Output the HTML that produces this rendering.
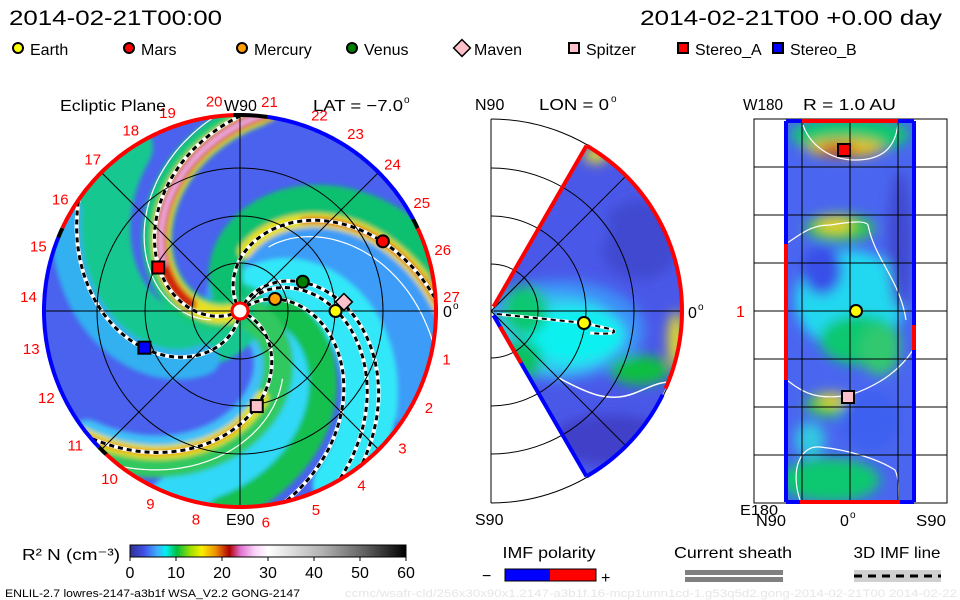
<!DOCTYPE html>
<html><head><meta charset="utf-8"><style>
html,body{margin:0;padding:0;background:#fff;width:960px;height:600px;overflow:hidden}
svg{display:block}
text{font-family:"Liberation Sans",sans-serif}
</style></head><body>
<svg id="s" width="960" height="600" viewBox="0 0 960 600" xmlns="http://www.w3.org/2000/svg">
<defs>
<clipPath id="eclClip"><circle cx="240" cy="311" r="195"/></clipPath>
<clipPath id="merClip"><path id="wedgePath" d=""/></clipPath>
<clipPath id="r1Clip"><rect x="786" y="121" width="128" height="381"/></clipPath>
<filter id="blur6" x="-20%" y="-20%" width="140%" height="140%"><feGaussianBlur stdDeviation="6"/></filter>
<filter id="blur3" x="-20%" y="-20%" width="140%" height="140%"><feGaussianBlur stdDeviation="2.5"/></filter>
<linearGradient id="cbar" x1="0" x2="1" y1="0" y2="0">
<stop offset="0" stop-color="#303090"/><stop offset="0.05" stop-color="#4050e8"/><stop offset="0.1" stop-color="#40b0ff"/><stop offset="0.13" stop-color="#00f0f0"/><stop offset="0.17" stop-color="#00c040"/><stop offset="0.22" stop-color="#a0e000"/><stop offset="0.26" stop-color="#f8f000"/><stop offset="0.31" stop-color="#f09000"/><stop offset="0.36" stop-color="#b00000"/><stop offset="0.4" stop-color="#e070d0"/><stop offset="0.45" stop-color="#f8d0f8"/><stop offset="0.5" stop-color="#ffffff"/><stop offset="0.7" stop-color="#b0b0b0"/><stop offset="0.85" stop-color="#606060"/><stop offset="1" stop-color="#000000"/>
</linearGradient>
</defs>
<g id="header">
<text x="9" y="25" font-size="21" textLength="213" lengthAdjust="spacingAndGlyphs">2014-02-21T00:00</text>
<text x="640" y="25" font-size="21" textLength="302" lengthAdjust="spacingAndGlyphs">2014-02-21T00 +0.00 day</text>
</g>
<g id="legend"></g>
<g id="ecl"></g>
<g id="mer"></g>
<g id="r1"></g>
<g id="bottom"></g>
</svg>
<script>
// ---- data ----
const planetNames = ["Earth","Mars","Mercury","Venus","Maven","Spitzer","Stereo_A","Stereo_B"];
const planetColors = ["#ffff00","#ff0000","#ffa000","#008000","#ffc0cb","#ffc0cb","#ff0000","#0000ff"];
const planetShapes = ["circle","circle","circle","circle","diamond","square","square","square"];
const planetRadiusAU = [0.98,1.63,0.38,0.71,1.07,0.99,0.95,1.05];
const planetAngleDeg = [0,26,19,25,5,280,152,201];
const legendX = [18,129,242,352,462,574,683,778];
const spiralLines = [58,121,41,66,263,207,338];
const colorbarTicks = [0,10,20,30,40,50,60];
const dayLabels = ["19","20","21","22","23","24","25","26","27","1","2","3","4","5","6","8","9","10","11","12","13","14","15","16","17","18"];
const dayLabelAngles = [110,97,82,68,57,44,31,17,4,-13,-27,-40,-55,-69,-83,-102,-115,-128,-141,-156,-170,-184,-198,-212,-226,-239];

const NS="http://www.w3.org/2000/svg";
function el(tag,attrs,parent,txt){const e=document.createElementNS(NS,tag);for(const k in attrs)e.setAttribute(k,attrs[k]);if(txt!==undefined)e.textContent=txt;(parent||document.getElementById('s')).appendChild(e);return e;}
function marker(shape,color,x,y,size,parent){
  let m;
  if(shape==="circle") m=el('circle',{cx:x,cy:y,r:size,fill:color,stroke:'#000','stroke-width':2},parent);
  else if(shape==="square") m=el('rect',{x:x-size,y:y-size,width:2*size,height:2*size,fill:color,stroke:'#000','stroke-width':2},parent);
  else m=el('path',{d:`M${x} ${y-size*1.4}L${x+size*1.4} ${y}L${x} ${y+size*1.4}L${x-size*1.4} ${y}Z`,fill:color,stroke:'#000','stroke-width':1.5},parent);
  return m;
}
// ---- legend ----
const lg=document.getElementById('legend');
planetNames.forEach((n,i)=>{
  const m=marker(planetShapes[i],planetColors[i],legendX[i],48,planetShapes[i]==="diamond"?6:5,lg);
  
  
  const t=el('text',{x:legendX[i]+12,y:55,'font-size':16},lg,n);
  
  
});

// ---- ecliptic panel ----
const CX=240,CY=311,R=195,PXAU=97.5,RATE=0.6;
const ecl=document.getElementById('ecl');
function pol(r,deg){const a=deg*Math.PI/180;return [CX+r*Math.cos(a),CY-r*Math.sin(a)];}
function spiral(phi0,r1,r2){let d="";for(let r=r1;r<=r2;r+=2){const p=pol(r,phi0-RATE*r);d+=(d?"L":"M")+p[0].toFixed(1)+" "+p[1].toFixed(1);}return d;}
const eg=el('g',{'clip-path':'url(#eclClip)'},ecl);
el('circle',{cx:CX,cy:CY,r:R,fill:'#4a62ee'},eg);
const bands=[
 [95,70,'#3c9cf8',0,200],[60,55,'#30e8f8',0,200],[10,45,'#30d8f8',0,200],[-20,40,'#40c0f8',0,200],
 [245,55,'#14c890',0,200],[270,30,'#30b0f0',60,200],[135,34,'#10c070',0,200],[25,28,'#18c050',40,200],[345,30,'#30c860',0,200],[205,30,'#18c878',0,200],
 [121,14,'#e8e020',60,200],[202,18,'#e8e020',10,200],[338,14,'#e0e020',90,200],
 [121,6,'#e04010',110,200],[202,12,'#d02010',50,200],[338,5,'#f08010',110,200],[202,5,'#f0b8f0',90,200]
];
const bg=el('g',{filter:'url(#blur3)'},eg);
bands.forEach(b=>{el('path',{d:spiral(b[0],b[3],b[4]),fill:'none',stroke:b[2],'stroke-width':b[1],'stroke-linecap':'round'},bg);});
[[215,30,200],[108,70,200],[350,80,200]].forEach(w=>el('path',{d:spiral(w[0],w[1],w[2]),fill:'none',stroke:'#fff','stroke-width':1.2},eg));
spiralLines.forEach((p,i)=>{
  const d=spiral(p,8,200);
  el('path',{d,fill:'none',stroke:'#fff','stroke-width':4},eg);
  const dl=el('path',{d,fill:'none',stroke:'#000','stroke-width':3,'stroke-dasharray':'5 4'},eg);
  
  
});
[48,95,143,195].forEach(r=>el('circle',{cx:CX,cy:CY,r,fill:'none',stroke:'#000','stroke-width':1},ecl));
[0,45,90,135].forEach(a=>{const p=pol(R,a),q=pol(R,a+180);el('line',{x1:p[0],y1:p[1],x2:q[0],y2:q[1],stroke:'#000','stroke-width':1},ecl);});
el('circle',{cx:CX,cy:CY,r:8,fill:'#fff',stroke:'#f00','stroke-width':3},ecl);
function arc(r,a1,a2){let d="";for(let a=a1;a<=a2;a+=1){const p=pol(r,a);d+=(d?"L":"M")+p[0].toFixed(1)+" "+p[1].toFixed(1);}return d;}
[[92,155,'#f00'],[155,158,'#000'],[158,224,'#00f'],[224,227,'#000'],[227,385,'#f00'],[385,388,'#000'],[388,442,'#00f'],[442,452,'#000']].forEach(s=>el('path',{d:arc(R+1,s[0],s[1]),fill:'none',stroke:s[2],'stroke-width':4},ecl));
dayLabels.forEach((d,i)=>{const p=pol(R+17,dayLabelAngles[i]);const t=el('text',{x:p[0],y:p[1]+6,'font-size':15,fill:'#f00','text-anchor':'middle'},ecl,d);});
planetNames.forEach((n,i)=>{const p=pol(planetRadiusAU[i]*PXAU,planetAngleDeg[i]);const m=marker(planetShapes[i],planetColors[i],p[0],p[1],6,ecl);});
el('text',{x:60,y:111,'font-size':16,textLength:106,lengthAdjust:'spacingAndGlyphs'},ecl,'Ecliptic Plane');
el('text',{x:224,y:111,'font-size':16},ecl,'W90');
el('text',{x:313,y:111,'font-size':16,textLength:90,lengthAdjust:'spacingAndGlyphs'},ecl,'LAT = −7.0');
el('text',{x:404,y:103,'font-size':10},ecl,'o');
el('text',{x:226,y:525,'font-size':16},ecl,'E90');
el('text',{x:443,y:317,'font-size':16},ecl,'0');
el('text',{x:453,y:309,'font-size':10},ecl,'o');

// ---- meridian panel ----
const MX=491,MY=311,MR=191,MA=60;
const mer=document.getElementById('mer');
function mp(r,deg){const a=deg*Math.PI/180;return [MX+r*Math.cos(a),MY-r*Math.sin(a)];}
let wd="M"+mp(5,MA).join(" ");
for(let a=MA;a>=-MA;a-=1){wd+="L"+mp(MR,a).map(v=>v.toFixed(1)).join(" ");}
wd+="L"+mp(5,-MA).join(" ")+"Z";
document.getElementById('wedgePath').setAttribute('d',wd);
const mg=el('g',{'clip-path':'url(#merClip)'},mer);
el('path',{d:wd,fill:'#4a58e8'},mg);
const mb=el('g',{filter:'url(#blur6)'},mg);
[[560,330,85,50,'#3c90f8'],[555,335,65,40,'#30c8f0'],[575,335,50,28,'#10f0f0'],[525,310,22,25,'#10c870'],[520,360,22,20,'#10c060'],[640,370,30,15,'#10c040'],[676,340,8,28,'#e8e020'],[596,155,12,8,'#e8e020'],[640,240,40,40,'#4048d0'],[610,440,60,25,'#4040c8'],[560,230,50,30,'#4a58e8']].forEach(b=>el('ellipse',{cx:b[0],cy:b[1],rx:b[2],ry:b[3],fill:b[4]},mb));
el('path',{d:'M557 377C590 395 610 403 635 393C655 385 660 380 682 383',fill:'none',stroke:'#fff','stroke-width':1.5},mg);
[47,95,143,192].forEach(r=>el('path',{d:`M${MX} ${MY-r}A${r} ${r} 0 0 1 ${MX} ${MY+r}`,fill:'none',stroke:'#000','stroke-width':1},mer));
el('line',{x1:MX,y1:MY-192,x2:MX,y2:MY+192,stroke:'#000'},mer);
[45,0,-45].forEach(a=>{const p=mp(MR,a);el('line',{x1:MX,y1:MY,x2:p[0],y2:p[1],stroke:'#000'},mer);});
el('path',{d:`M${mp(5,MA).join(" ")}L${mp(MR,MA).join(" ")}`,stroke:'#f00','stroke-width':4,fill:'none'},mer);
el('path',{d:`M${mp(5,-MA).join(" ")}L${mp(MR,-MA).join(" ")}`,stroke:'#00f','stroke-width':4,fill:'none'},mer);
el('path',{d:`M${mp(18,-MA).join(" ")}L${mp(60,-MA).join(" ")}`,stroke:'#f00','stroke-width':4,fill:'none'},mer);
let ra="",ba="";for(let a=MA;a>=-24;a--)ra+=(ra?"L":"M")+mp(MR,a).join(" ");for(let a=-26;a>=-MA;a--)ba+=(ba?"L":"M")+mp(MR,a).join(" ");
el('path',{d:ra,stroke:'#f00','stroke-width':4,fill:'none'},mer);
el('path',{d:ba,stroke:'#00f','stroke-width':4,fill:'none'},mer);
el('path',{d:'M497 314L584 323L610 329C620 332 612 335 590 333',fill:'none',stroke:'#fff','stroke-width':3},mer);
el('path',{d:'M497 314L584 323L610 329C620 332 612 335 590 333',fill:'none',stroke:'#000','stroke-width':2,'stroke-dasharray':'5 4'},mer);
const me=marker('circle','#ffff00',584,323,6,mer);
el('text',{x:475,y:110,'font-size':16},mer,'N90');
el('text',{x:539,y:110,'font-size':16,textLength:70,lengthAdjust:'spacingAndGlyphs'},mer,'LON = 0');
el('text',{x:611,y:102,'font-size':10},mer,'o');
el('text',{x:475,y:525,'font-size':16},mer,'S90');
el('text',{x:688,y:318,'font-size':16},mer,'0');
el('text',{x:698,y:310,'font-size':10},mer,'o');

// ---- R=1 AU panel ----
const r1=document.getElementById('r1');
const rg=el('g',{'clip-path':'url(#r1Clip)'},r1);
el('rect',{x:786,y:121,width:128,height:381,fill:'#4a66f0'},rg);
const rb=el('g',{filter:'url(#blur6)'},rg);
[[850,300,55,50,'#20d8f0'],[860,340,40,25,'#10c870'],[850,135,60,18,'#10c870'],[845,148,38,9,'#e8c010'],[838,150,18,6,'#d04010'],[840,228,35,14,'#30c850'],[835,225,18,7,'#f0d020'],[830,405,25,12,'#30c850'],[832,400,14,6,'#f0d020'],[830,480,50,22,'#10c870'],[810,440,15,18,'#30c8e0'],[900,240,12,70,'#4048d0'],[822,270,20,25,'#3850e8'],[870,420,30,30,'#3c60f0'],[880,350,20,25,'#30c870']].forEach(b=>el('ellipse',{cx:b[0],cy:b[1],rx:b[2],ry:b[3],fill:b[4]},rb));
el('path',{d:'M803 125C810 145 830 160 855 160C880 160 895 150 898 124',fill:'none',stroke:'#fff','stroke-width':1.2},rg);
el('path',{d:'M787 243C800 235 810 225 830 225C850 222 865 220 868 225C875 260 900 280 906 320',fill:'none',stroke:'#fff','stroke-width':1.2},rg);
el('path',{d:'M787 380C805 395 820 400 850 395C880 385 900 370 913 350',fill:'none',stroke:'#fff','stroke-width':1.2},rg);
el('path',{d:'M800 500C790 470 800 445 820 447C850 450 880 460 895 470C900 480 898 495 898 502',fill:'none',stroke:'#fff','stroke-width':1.2},rg);
el('rect',{x:754,y:119,width:193,height:384,fill:'none',stroke:'#000'},r1);
[167,215,263,311,359,407,455].forEach(y=>el('line',{x1:754,y1:y,x2:947,y2:y,stroke:'#000'},r1));
[802,850,898].forEach(x=>el('line',{x1:x,y1:119,x2:x,y2:503,stroke:'#000'},r1));
el('line',{x1:786,y1:121,x2:914,y2:121,stroke:'#f00','stroke-width':4},r1);
el('line',{x1:786,y1:502,x2:914,y2:502,stroke:'#f00','stroke-width':4},r1);
[[786,121,802,121],[898,121,914,121],[786,502,800,502],[900,502,914,502]].forEach(l=>el('line',{x1:l[0],y1:l[1],x2:l[2],y2:l[3],stroke:'#00f','stroke-width':4},r1));
el('line',{x1:786,y1:121,x2:786,y2:502,stroke:'#00f','stroke-width':4},r1);
el('line',{x1:786,y1:244,x2:786,y2:380,stroke:'#f00','stroke-width':4},r1);
el('line',{x1:914,y1:121,x2:914,y2:502,stroke:'#00f','stroke-width':4},r1);
el('line',{x1:914,y1:325,x2:914,y2:350,stroke:'#f00','stroke-width':4},r1);
[['#ff0000','square',844,150],['#ffff00','circle',856,311],['#ffc0cb','square',848,397]].forEach(m=>{const e=marker(m[1],m[0],m[2],m[3],6,r1);});
el('text',{x:803,y:110,'font-size':16,textLength:93,lengthAdjust:'spacingAndGlyphs'},r1,'R = 1.0 AU');
el('text',{x:743,y:110,'font-size':16,textLength:40,lengthAdjust:'spacingAndGlyphs'},r1,'W180');
el('text',{x:740,y:515,'font-size':15,textLength:38,lengthAdjust:'spacingAndGlyphs'},r1,'E180');
el('text',{x:736,y:317,'font-size':16,fill:'#f00'},r1,'1');
el('text',{x:756,y:526,'font-size':16,textLength:30,lengthAdjust:'spacingAndGlyphs'},r1,'N90');
el('text',{x:840,y:526,'font-size':16},r1,'0');
el('text',{x:850,y:518,'font-size':10},r1,'o');
el('text',{x:916,y:526,'font-size':16,textLength:30,lengthAdjust:'spacingAndGlyphs'},r1,'S90');

// ---- bottom ----
const bt=document.getElementById('bottom');
el('text',{x:22,y:560,'font-size':16,textLength:98,lengthAdjust:'spacingAndGlyphs'},bt,'R² N (cm⁻³)');
const cb=el('rect',{x:130,y:545,width:276,height:12,fill:'url(#cbar)',stroke:'#000'},bt);

colorbarTicks.forEach(v=>{const x=130+v/60*276;el('line',{x1:x,y1:557,x2:x,y2:561,stroke:'#000'},bt);const t=el('text',{x,y:578,'font-size':16,'text-anchor':'middle'},bt,String(v));});
el('text',{x:549,y:558,'font-size':16,'text-anchor':'middle',textLength:93,lengthAdjust:'spacingAndGlyphs'},bt,'IMF polarity');
el('rect',{x:505,y:569,width:45,height:12,fill:'#00f'},bt);
el('rect',{x:550,y:569,width:46,height:12,fill:'#f00'},bt);
el('rect',{x:505,y:569,width:91,height:12,fill:'none',stroke:'#000'},bt);
el('text',{x:482,y:581,'font-size':16},bt,'−');
el('text',{x:601,y:583,'font-size':16},bt,'+');
el('text',{x:733,y:558,'font-size':16,'text-anchor':'middle',textLength:118,lengthAdjust:'spacingAndGlyphs'},bt,'Current sheath');
el('rect',{x:685,y:570,width:98,height:5,fill:'#808080'},bt);
el('rect',{x:685,y:577,width:98,height:5,fill:'#808080'},bt);
el('text',{x:897,y:558,'font-size':16,'text-anchor':'middle',textLength:87,lengthAdjust:'spacingAndGlyphs'},bt,'3D IMF line');
el('rect',{x:854,y:570,width:87,height:12,fill:'#d0d0d0'},bt);
el('line',{x1:854,y1:576,x2:941,y2:576,stroke:'#000','stroke-width':3,'stroke-dasharray':'8 6'},bt);
el('text',{x:5,y:597,'font-size':11,textLength:295,lengthAdjust:'spacingAndGlyphs'},bt,'ENLIL-2.7 lowres-2147-a3b1f WSA_V2.2 GONG-2147');
el('text',{x:345,y:597,'font-size':11,fill:'#e6e6e6',textLength:612,lengthAdjust:'spacingAndGlyphs'},bt,'ccmc/wsafr-cld/256x30x90x1.2147-a3b1f.16-mcp1umn1cd-1.g53q5d2.gong-2014-02-21T00   2014-02-22');
</script>
</body></html>
